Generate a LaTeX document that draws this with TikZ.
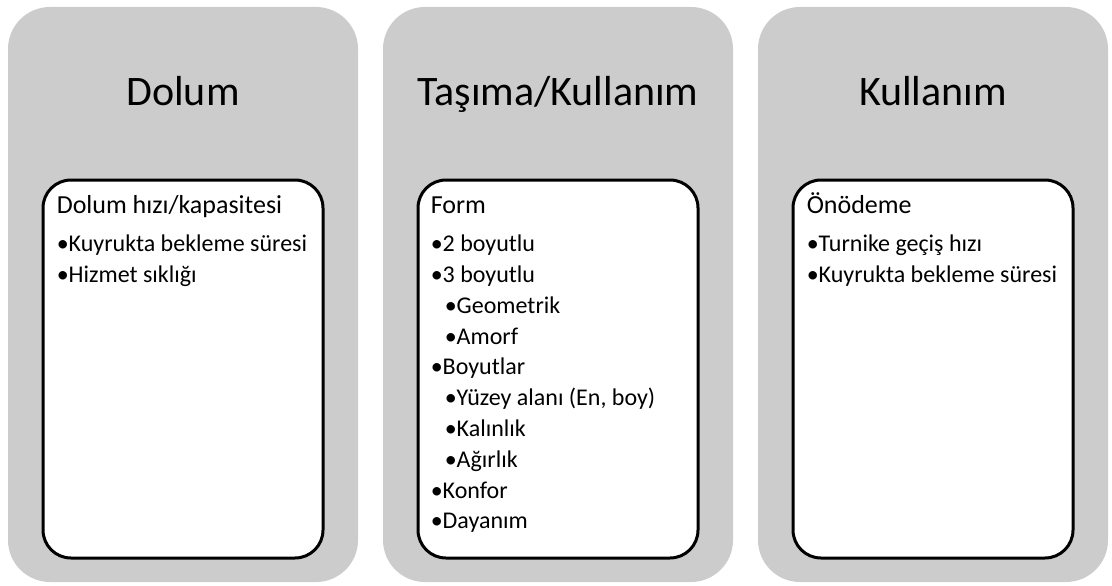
\documentclass[tikz,border=0pt]{standalone}
\usepackage{fontspec}
\setmainfont{Carlito}
\usetikzlibrary{positioning}
\definecolor{panelgray}{RGB}{204,204,204}
\tikzstyle{panel} =[rectangle, rounded corners=31.5pt, minimum width=262.5pt, minimum height=431.25pt, fill=panelgray, draw=none]
\tikzstyle{title} =[anchor=base, inner sep=0pt, font=\fontsize{31.5}{36}\selectfont]
\tikzstyle{card} =[rectangle, rounded corners=21pt, minimum width=210pt, minimum height=283.5pt, fill=white, draw=black, line width=2.25pt]
\tikzstyle{itemtext} =[anchor=north west, inner sep=0pt, align=left, font=\fontsize{18}{23.1}\selectfont]
% first line gets a fixed 18pt strut so the node top sits 18pt above its baseline
\newcommand{\head}[1]{{\fontsize{19.5}{23.1}\selectfont\rule{0pt}{18pt}#1}\\[5.4pt]}
\newcommand{\sub}{\hspace*{10.5pt}}

\begin{document}
\begin{tikzpicture}[x=0.75pt,y=-0.75pt]
\useasboundingbox (0,0) rectangle (1112,585);
% three columns
\node (pdolum) [panel] at (183,294.5) {};
\node (ptasima) [panel] at (558,294.5) {};
\node (pkullanim) [panel] at (933,294.5) {};

\node (tdolum) [title] at (183,105) {Dolum};
\node (ttasima) [title] at (558,105) {Taşıma/Kullanım};
\node (tkullanim) [title] at (933,105) {Kullanım};

\node (cdolum) [card] at (183,369) {};
\node (ctasima) [card] at (558,369) {};
\node (ckullanim) [card] at (933,369) {};

% card contents
\node (ldolum) [itemtext] at ([xshift=11.25pt,yshift=-8.25pt]cdolum.north west)
  {\head{Dolum hızı/kapasitesi}
   •Kuyrukta bekleme süresi\\
   •Hizmet sıklığı};
\node (ltasima) [itemtext] at ([xshift=10.5pt,yshift=-8.25pt]ctasima.north west)
  {\head{Form}
   •2 boyutlu\\
   •3 boyutlu\\
   \sub•Geometrik\\
   \sub•Amorf\\
   •Boyutlar\\
   \sub•Yüzey alanı (En, boy)\\
   \sub•Kalınlık\\
   \sub•Ağırlık\\
   •Konfor\\
   •Dayanım};
\node (lkullanim) [itemtext] at ([xshift=11.25pt,yshift=-8.25pt]ckullanim.north west)
  {\head{Önödeme}
   •Turnike geçiş hızı\\
   •Kuyrukta bekleme süresi};
\end{tikzpicture}
\end{document}
